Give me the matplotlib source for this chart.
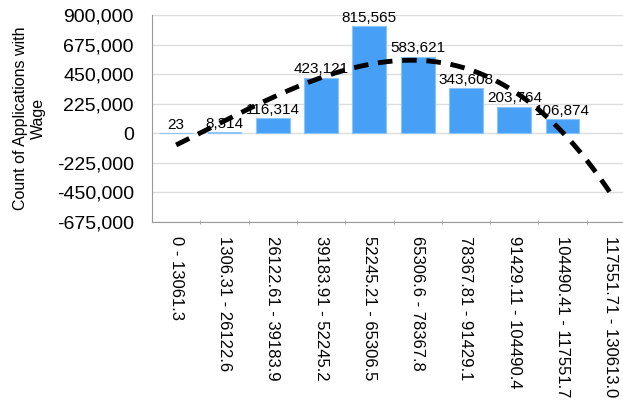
import numpy as np
import matplotlib.pyplot as plt
from matplotlib.ticker import FuncFormatter

plt.rcParams['font.family'] = ['Liberation Sans', 'DejaVu Sans']

bins = ['0 - 13061.3', '1306.31 - 26122.6', '26122.61 - 39183.9', '39183.91 - 52245.2',
        '52245.21 - 65306.5', '65306.6 - 78367.8', '78367.81 - 91429.1', '91429.11 - 104490.4',
        '104490.41 - 117551.7', '117551.71 - 130613.0']
counts = [23, 8314, 116314, 423121, 815565, 583621, 343608, 203764, 106874]
yticks = [-675000, -450000, -225000, 0, 225000, 450000, 675000, 900000]

fig = plt.figure(figsize=(6.23, 4.09), dpi=100)
ax = fig.add_axes([152/623, 187/409, 483/623, 207/409])

x = np.arange(len(bins))
xc = x[:len(counts)]
ax.bar(xc, counts, width=0.7, color='#47A0F5', edgecolor='#8cc5fa', linewidth=0.8, zorder=2)
for xi, v in zip(xc, counts):
    ax.text(xi, v + 10000, f'{v:,}', ha='center', va='bottom', fontsize=11, zorder=3)

# cubic trend over the bins
coef = np.polyfit(xc + 1, counts, 3)
xs = np.linspace(1, len(bins), 200)
ax.plot(xs - 1, np.polyval(coef, xs), color='black', lw=3.5, ls=(0, (3, 2)), zorder=4)

ax.set_xlim(-0.5, len(bins) - 0.5)
ax.set_ylim(-675000, 900000)
ax.set_yticks(yticks)
ax.yaxis.set_major_formatter(FuncFormatter(lambda v, p: f'{int(v):,}'))
ax.set_xticks(x)
ax.set_xticklabels(bins, fontsize=12)
ax.set_xticks(np.arange(0.5, len(bins) - 0.5), minor=True)
ax.tick_params(axis='x', which='major', length=0, pad=10)
ax.tick_params(axis='x', which='minor', length=3, color='#999999', direction='inout')
for lbl in ax.get_xticklabels():
    lbl.set_rotation(270)
    lbl.set_ha('center')
    lbl.set_va('top')
ax.tick_params(axis='y', length=0, labelsize=14, pad=13)
ax.grid(axis='y', color='#dddddd', lw=1, zorder=0)
for s in ['top', 'right']:
    ax.spines[s].set_visible(False)
ax.spines['left'].set_color('#999999')
ax.spines['bottom'].set_color('#999999')
ax.set_ylabel('Count of Applications with\nWage', fontsize=11.5, labelpad=8)

fig.savefig('out.png', dpi=100)
